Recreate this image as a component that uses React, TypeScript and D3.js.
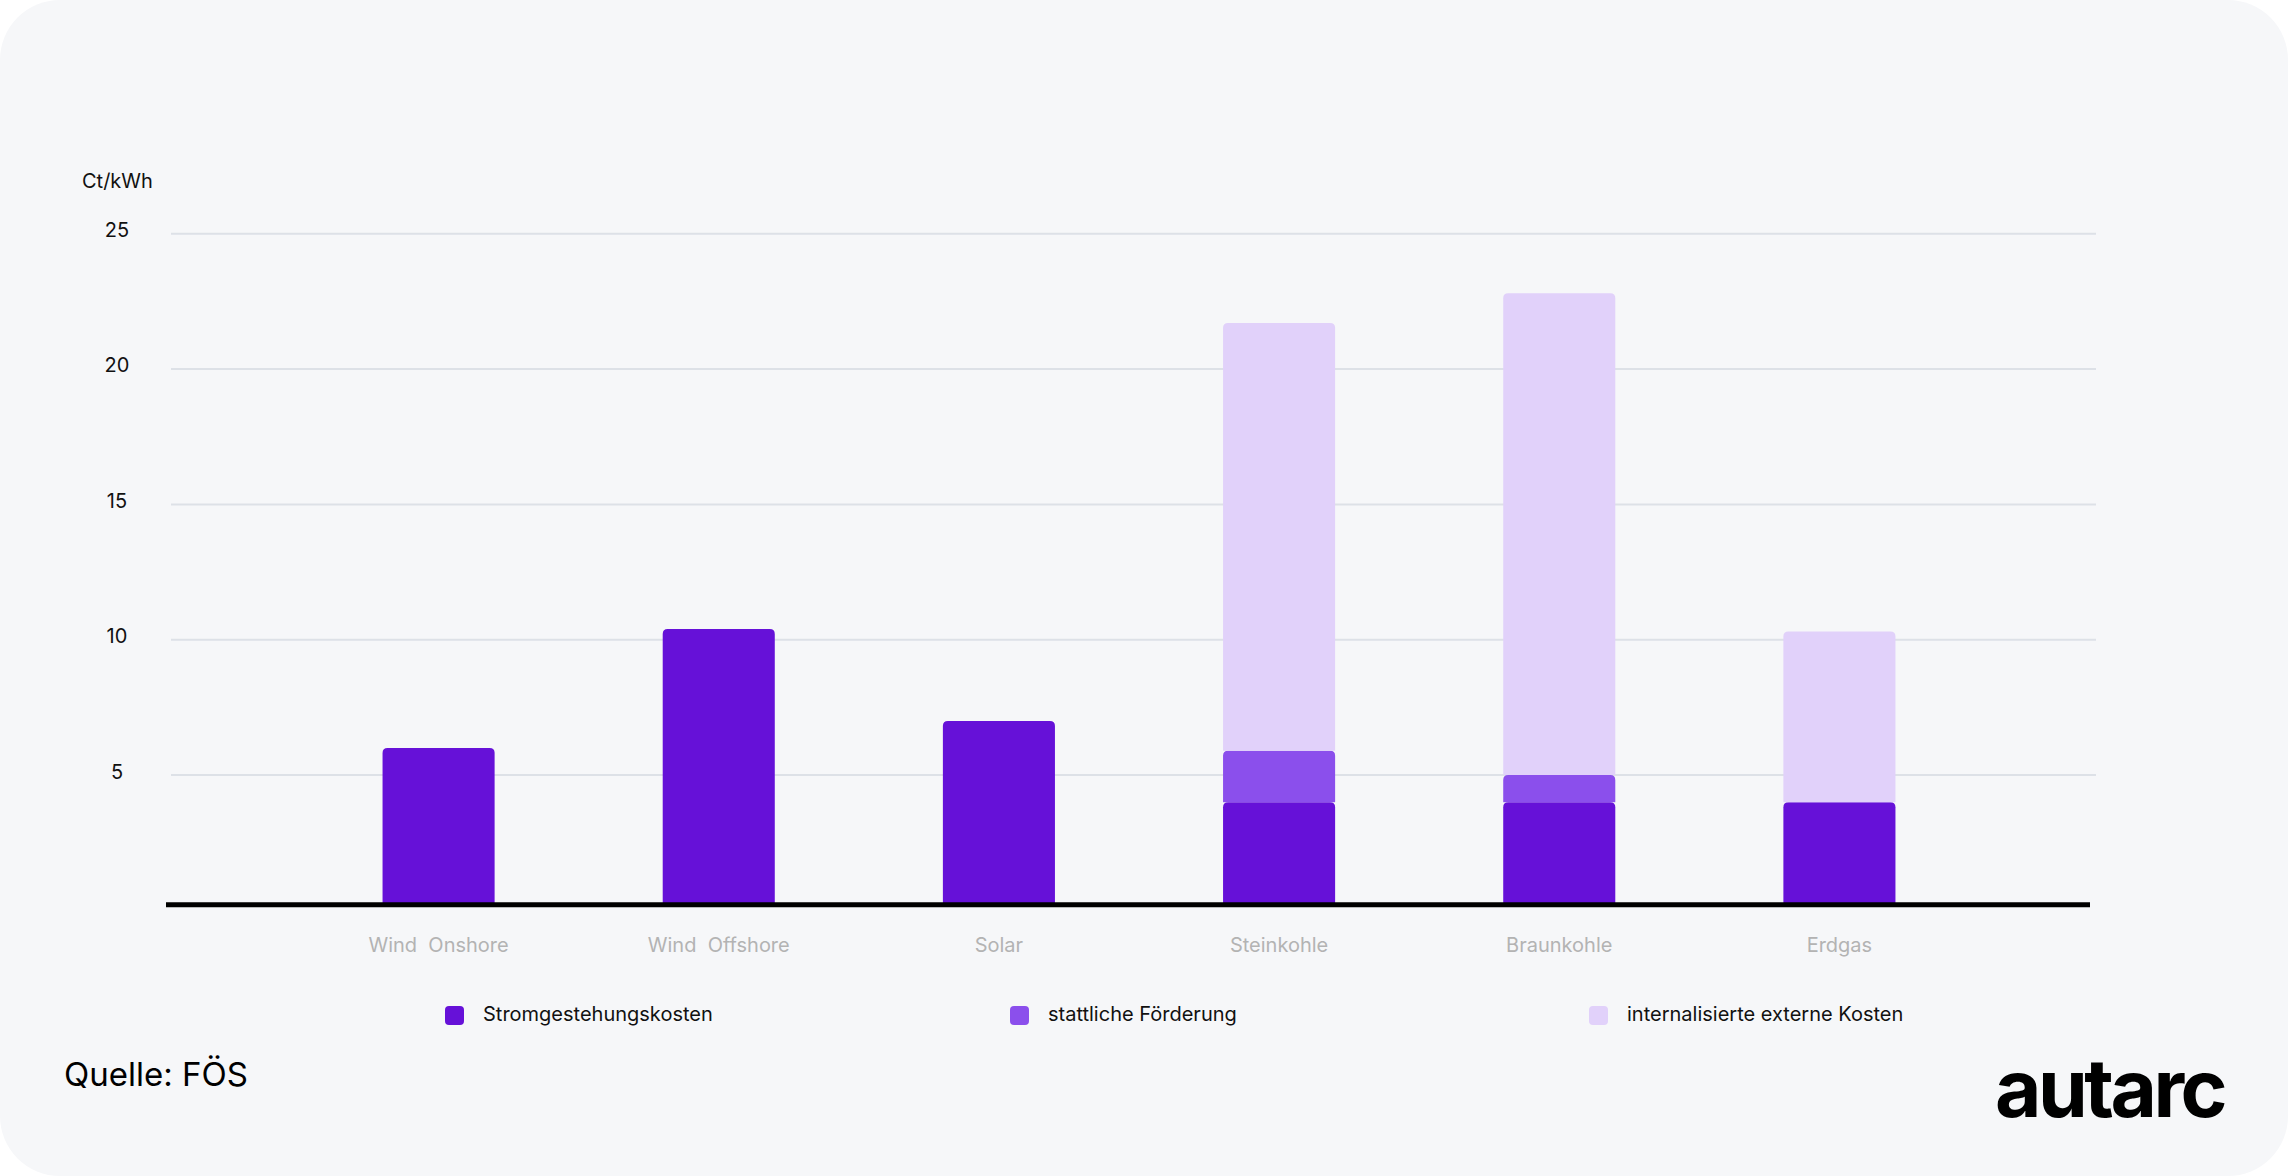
import { scaleBand, scaleLinear, stack } from 'd3'
import { useMemo } from 'react'

const categories = ['Wind  Onshore', 'Wind  Offshore', 'Solar', 'Steinkohle', 'Braunkohle', 'Erdgas']
const stromgestehungskosten = [6.0, 10.4, 7.0, 4.0, 4.0, 4.0]
const foerderung = [0, 0, 0, 1.9, 1.0, 0]
const externeKosten = [0, 0, 0, 15.8, 17.8, 6.3]

const seriesKeys = ['strom', 'foerderung', 'extern']
const seriesNames = ['Stromgestehungskosten', 'stattliche Förderung', 'internalisierte externe Kosten']
const seriesColors = ['#6611d8', '#8b4fec', '#e1d1fa']

const yTicks = [5, 10, 15, 20, 25]

interface Row {
  category: string
  strom: number
  foerderung: number
  extern: number
}

const rows: Row[] = categories.map((category, i) => ({
  category,
  strom: stromgestehungskosten[i],
  foerderung: foerderung[i],
  extern: externeKosten[i],
}))

const FONT = 'Inter, "Noto Sans", sans-serif'

// rect with rounded top corners only
const topRounded = (x: number, y: number, w: number, h: number, r: number) => {
  const rr = Math.min(r, h, w / 2)
  return `M${x},${y + h}V${y + rr}Q${x},${y} ${x + rr},${y}H${x + w - rr}Q${x + w},${y} ${x + w},${y + rr}V${y + h}Z`
}

const App = () => {
  const width = 2288
  const height = 1176
  const axisY = 904.8

  const xScale = scaleBand<string>()
    .domain(categories)
    .range([298.5, 1979.5])
    .paddingInner(0.6)
    .paddingOuter(0.3)

  const yScale = scaleLinear().domain([0, 25]).range([910.4, 233.7])

  const stacked = useMemo(() => stack<Row>().keys(seriesKeys)(rows), [])

  const legendX = [445, 1010, 1589]

  return (
    <svg width={width} height={height} style={{ position: 'absolute', left: 0, top: 0 }} fontFamily={FONT}>
      <rect x={0} y={0} width={width} height={height} fill="#ffffff" />
      <rect x={0} y={0} width={width} height={height} rx={60} ry={60} fill="#f6f7f9" />

      <text x={82} y={183} dominantBaseline="middle" fontSize={20} fill="#111">Ct/kWh</text>

      {yTicks.map(t => (
        <g key={t}>
          <line x1={171} x2={2096} y1={yScale(t)} y2={yScale(t)} stroke="#dde1e7" strokeWidth={2} />
          <text x={117} y={yScale(t) - 2} textAnchor="middle" dominantBaseline="middle" fontSize={20} fill="#111">
            {t}
          </text>
        </g>
      ))}

      {stacked.map((layer, li) => (
        <g key={layer.key} fill={seriesColors[li]}>
          {layer.map((d, i) => {
            if (d[1] - d[0] <= 0) return null
            const x = xScale(rows[i].category) ?? 0
            const y1 = yScale(d[1])
            const y0 = Math.min(yScale(d[0]), axisY)
            return <path key={i} d={topRounded(x, y1, xScale.bandwidth(), y0 - y1, 5)} />
          })}
        </g>
      ))}

      <line x1={166} x2={2090} y1={axisY} y2={axisY} stroke="#000" strokeWidth={5} />

      {categories.map(c => (
        <text
          key={c}
          x={(xScale(c) ?? 0) + xScale.bandwidth() / 2}
          y={947}
          textAnchor="middle"
          dominantBaseline="middle"
          fontSize={20}
          fill="#b3b3b3"
          style={{ whiteSpace: 'pre' }}
        >
          {c}
        </text>
      ))}

      {seriesNames.map((name, i) => (
        <g key={name} transform={`translate(${legendX[i]}, 1006)`}>
          <rect x={0} y={0} width={19} height={19} rx={4} fill={seriesColors[i]} />
          <text x={38} y={10} dominantBaseline="middle" fontSize={20} fill="#111">{name}</text>
        </g>
      ))}

      <text x={64} y={1086} fontSize={33} fill="#000">Quelle: FÖS</text>
      <text x={1995} y={1117} fontSize={80} fontWeight={700} letterSpacing={-3.5} fill="#000">autarc</text>
    </svg>
  )
}

export default App
